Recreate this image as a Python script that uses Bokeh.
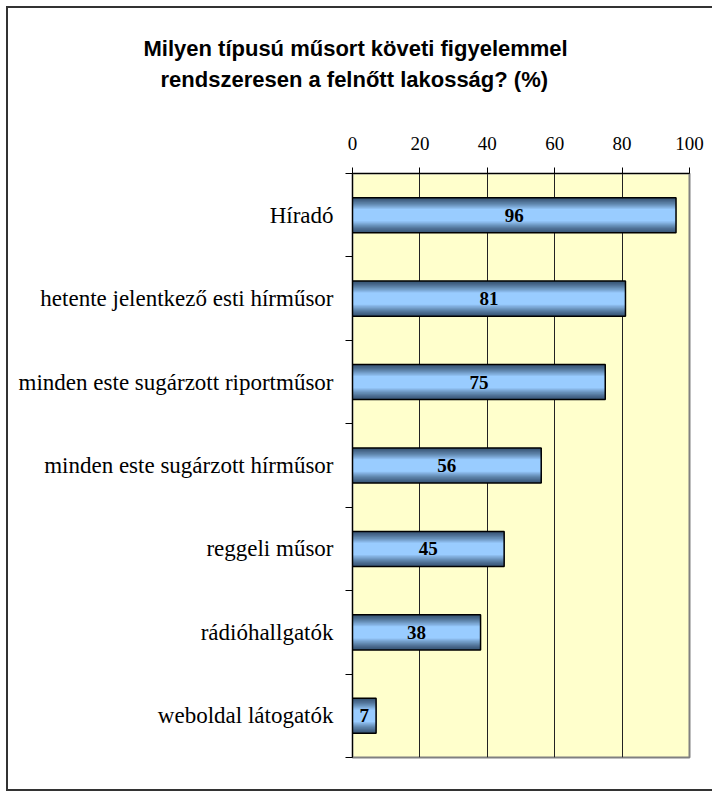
import numpy as np
from bokeh.plotting import figure
from bokeh.models import Range1d, FixedTicker, Title
from bokeh.core.properties import value
from bokeh.embed import file_html
from bokeh.resources import INLINE

# ---- data ----
categories = [
    "Híradó",
    "hetente jelentkező esti hírműsor",
    "minden este sugárzott riportműsor",
    "minden este sugárzott hírműsor",
    "reggeli műsor",
    "rádióhallgatók",
    "weboldal látogatók",
]
values = [96, 81, 75, 56, 45, 38, 7]
x_ticks = [0, 20, 40, 60, 80, 100]
grid_ticks = [20, 40, 60, 80]
title_lines = [
    "Milyen típusú műsort követi figyelemmel",
    "rendszeresen a felnőtt lakosság? (%)",
]

n = len(categories)
centers = [i + 0.5 for i in range(n)]
boundaries = list(range(n + 1))

p = figure(
    width=704, height=781,
    x_range=Range1d(0, 100), y_range=Range1d(n, 0),
    x_axis_location="above",
    output_backend="svg", toolbar_location=None,
    min_border_left=344, min_border_right=23,
    min_border_top=165, min_border_bottom=32,
)
p.styles = {"margin-left": "8px", "margin-top": "8px",
            "box-shadow": "0 0 0 2px #333333"}
p.background_fill_color = "#FFFFCC"
p.border_fill_color = "white"
p.outline_line_color = "#808080"
p.outline_line_width = 2

# title: two lines, left-aligned with offsets so they sit centred on the canvas
p.title.text = title_lines[0]
p.title.align = "left"
p.title.offset = -209
p.title.standoff = 4
p.title.text_font = "Liberation Sans"
p.title.text_font_style = "bold"
p.title.text_font_size = "22px"
p.title.text_color = "black"
t2 = Title(text=title_lines[1], align="left", offset=-192, standoff=4,
           text_font="Liberation Sans", text_font_style="bold",
           text_font_size="22px", text_color="black")
p.add_layout(t2, "above")

# grid
p.xgrid.ticker = FixedTicker(ticks=grid_ticks)
p.xgrid.grid_line_color = "#222222"
p.xgrid.grid_line_width = 1
p.ygrid.visible = False

# top axis
xa = p.xaxis[0]
xa.ticker = FixedTicker(ticks=x_ticks)
xa.major_tick_out = 6
xa.major_tick_in = 0
xa.minor_tick_out = 0
xa.minor_tick_in = 0
xa.axis_line_color = "black"
xa.major_tick_line_color = "black"
xa.major_label_text_font = "Liberation Serif"
xa.major_label_text_font_size = "19px"
xa.major_label_text_color = "black"
xa.major_label_standoff = 18
# blank spacer label: keeps the title block clear of the tick numbers
xa.axis_label = "\u00a0"
xa.axis_label_text_font_size = "12px"
xa.axis_label_text_alpha = 0
xa.axis_label_standoff = 23

# left axis
ya = p.yaxis[0]
ya.ticker = FixedTicker(ticks=centers, minor_ticks=boundaries)
ya.major_label_overrides = {c: cat for c, cat in zip(centers, categories)}
ya.major_tick_out = 0
ya.major_tick_in = 0
ya.minor_tick_out = 7
ya.minor_tick_in = 0
ya.minor_tick_line_color = "black"
ya.axis_line_color = "black"
ya.major_label_text_font = "Liberation Serif"
ya.major_label_text_font_size = "23px"
ya.major_label_text_color = "black"
ya.major_label_standoff = 12

# gradient bars (nested layers, dark edges -> light centre)
dark = np.array([0x3a, 0x58, 0x78], dtype=float)
light = np.array([0x99, 0xCC, 0xFF], dtype=float)
bar_h = 0.42
N = 12
for k in range(N):
    t = k / (N - 1)
    frac = 1 - 0.65 * t
    col = dark + (light - dark) * (t ** 1.3)
    hexcol = "#%02x%02x%02x" % tuple(int(round(c)) for c in col)
    p.hbar(y=centers, left=0, right=values, height=bar_h * frac,
           fill_color=hexcol, line_color=None)
p.hbar(y=centers, left=0, right=values, height=bar_h,
       fill_color=None, line_color="black", line_width=1.5)

# value labels
p.text(x=[v / 2 for v in values], y=centers, text=[str(v) for v in values],
       text_font=value("Liberation Serif"), text_font_style="bold",
       text_font_size="19px", text_align="center", text_baseline="middle",
       text_color="black")

open("out.html", "w").write(file_html(p, INLINE))
